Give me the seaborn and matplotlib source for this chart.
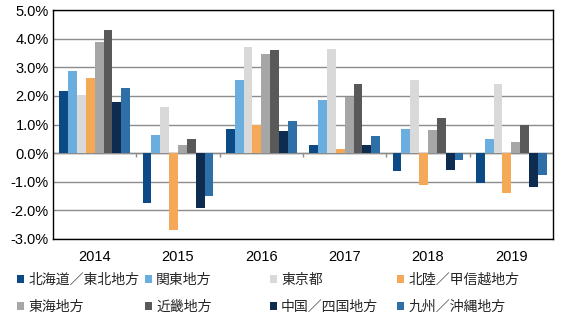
import matplotlib
matplotlib.use("Agg")
import matplotlib.pyplot as plt
import seaborn as sns
import pandas as pd
from matplotlib.patches import Patch
from matplotlib.ticker import FuncFormatter, MultipleLocator

years = ["2014", "2015", "2016", "2017", "2018", "2019"]
regions = ["北海道／東北地方", "関東地方", "東京都", "北陸／甲信越地方",
           "東海地方", "近畿地方", "中国／四国地方", "九州／沖縄地方"]
colors = ["#0b4a84", "#6aaee0", "#d9d9d9", "#f5a857",
          "#a6a6a6", "#595959", "#0d2c4f", "#2e6fa7"]

hokkaido = [2.16, -1.73, 0.85, 0.28, -0.64, -1.03]
kanto    = [2.87, 0.64, 2.57, 1.84, 0.86, 0.51]
tokyo    = [2.02, 1.60, 3.72, 3.63, 2.57, 2.41]
hokuriku = [2.62, -2.69, 1.00, 0.14, -1.10, -1.38]
tokai    = [3.88, 0.28, 3.48, 1.95, 0.80, 0.40]
kinki    = [4.30, 0.51, 3.60, 2.43, 1.21, 1.00]
chugoku  = [1.78, -1.91, 0.79, 0.28, -0.58, -1.19]
kyushu   = [2.26, -1.51, 1.12, 0.59, -0.23, -0.77]

series = [hokkaido, kanto, tokyo, hokuriku, tokai, kinki, chugoku, kyushu]

rows = []
for reg, vals in zip(regions, series):
    for y, v in zip(years, vals):
        rows.append({"year": y, "region": reg, "value": v})
df = pd.DataFrame(rows)

sns.set_theme(style="white")
plt.rcParams["font.family"] = ["Liberation Sans", "Noto Sans CJK JP", "DejaVu Sans"]

fig = plt.figure(figsize=(5.75, 3.25), dpi=100)
ax = fig.add_axes([53/575, 1-239/325, 500/575, 229/325])

sns.barplot(data=df, x="year", y="value", hue="region", order=years,
            hue_order=regions, palette=colors, width=0.85, gap=0,
            legend=False, ax=ax, saturation=1, errorbar=None, linewidth=0)

ax.set_ylim(-3, 5)
ax.set_xlim(-0.5, len(years) - 0.5)
ax.yaxis.set_major_locator(MultipleLocator(1))
ax.yaxis.set_major_formatter(FuncFormatter(lambda v, p: f"{v:.1f}%"))
ax.set_xlabel("")
ax.set_ylabel("")
ax.grid(axis="y", color="#8c8c8c", linewidth=1)
ax.set_axisbelow(True)
ax.axhline(0, color="#8c8c8c", linewidth=1, zorder=0.5)
ax.vlines([i + 0.5 for i in range(len(years) - 1)], -0.14, 0,
          color="#8c8c8c", linewidth=1, zorder=0.5)
for s in ax.spines.values():
    s.set_color("black")
    s.set_linewidth(1)
ax.tick_params(axis="y", length=0, pad=3, labelsize=10.5, colors="black")
ax.tick_params(axis="x", length=0, pad=8, labelsize=10.5, colors="black")

legend_cols = [(0, 4), (1, 5), (2, 6), (3, 7)]
col_x = [17, 145, 270, 397]
for (a, b), xpx in zip(legend_cols, col_x):
    handles = [Patch(facecolor=colors[a], edgecolor="none", label=regions[a]),
               Patch(facecolor=colors[b], edgecolor="none", label=regions[b])]
    fig.legend(handles=handles, loc="upper left",
               bbox_to_anchor=(xpx/575, 1-273/325), frameon=False,
               prop={"family": ["Noto Sans CJK JP"], "size": 10},
               handlelength=0.5, handleheight=0.5, handletextpad=0.3,
               labelspacing=0.95, borderpad=0, borderaxespad=0)

fig.savefig("out.png", dpi=100)
